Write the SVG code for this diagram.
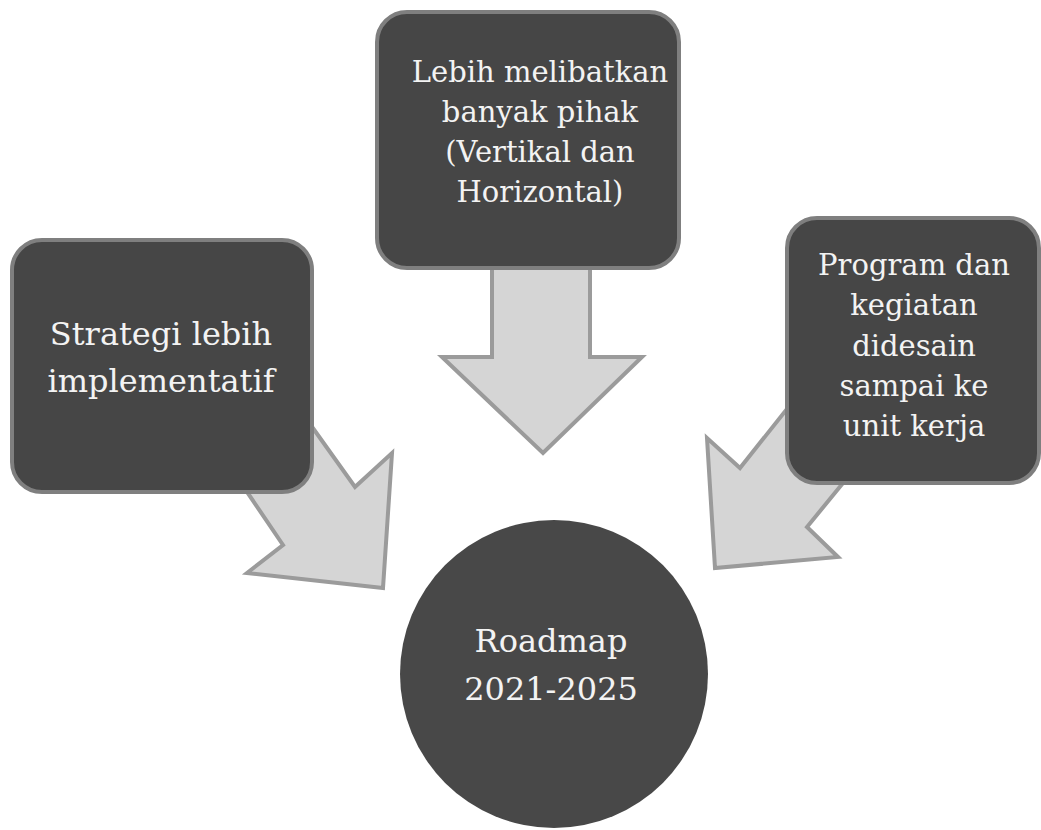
<svg xmlns="http://www.w3.org/2000/svg" width="1041" height="830" viewBox="0 0 1041 830">
<style>
.arrow{fill:#d5d5d5;stroke:#9b9b9b;stroke-width:4;stroke-linejoin:miter}
.box{fill:#464646;stroke:#7f7f7f;stroke-width:4}
.t{font-family:"DejaVu Serif","Liberation Serif",serif;fill:#f3f3f3;text-anchor:middle}
</style>
<rect width="1041" height="830" fill="#ffffff"/>
<g id="connectors">
<polygon class="arrow" points="492,250 590,250 590,357 642,357 543,453 442,357 492,357"/>
<polygon class="arrow" points="290,396 355,487 392,453 383,588 247,573 283,545 222,455"/>
<polygon class="arrow" points="810,380 740,468 707,438 715,568 838,557 807,527 870,450"/>
</g>
<g id="node-top">
<rect class="box" x="377" y="12" width="302" height="256" rx="30"/>
<text class="t" font-size="29"><tspan x="540" y="82">Lebih melibatkan</tspan><tspan x="540" y="122">banyak pihak</tspan><tspan x="540" y="162">(Vertikal dan</tspan><tspan x="540" y="202">Horizontal)</tspan></text>
</g>
<g id="node-left">
<rect class="box" x="12" y="240" width="300" height="252" rx="30"/>
<text class="t" font-size="32"><tspan x="161" y="345">Strategi lebih</tspan><tspan x="161" y="392">implementatif</tspan></text>
</g>
<g id="node-right">
<rect class="box" x="787" y="218" width="252" height="265" rx="30"/>
<text class="t" font-size="29"><tspan x="914" y="275">Program dan</tspan><tspan x="914" y="315">kegiatan</tspan><tspan x="914" y="356">didesain</tspan><tspan x="914" y="396">sampai ke</tspan><tspan x="914" y="436">unit kerja</tspan></text>
</g>
<g id="node-center">
<circle cx="554" cy="674" r="154" fill="#484848"/>
<text class="t" font-size="32"><tspan x="551" y="652">Roadmap</tspan><tspan x="551" y="700">2021-2025</tspan></text>
</g>
</svg>
